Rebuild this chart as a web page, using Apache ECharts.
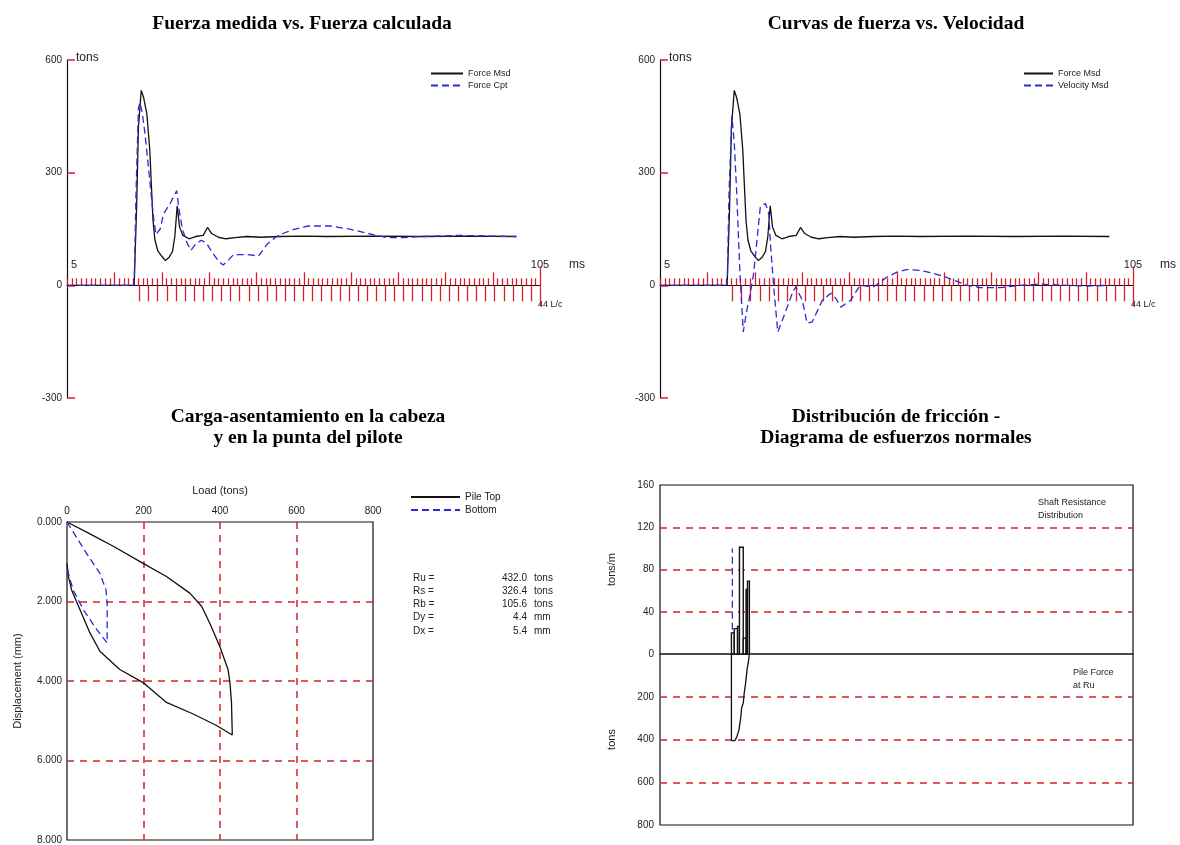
<!DOCTYPE html>
<html>
<head>
<meta charset="utf-8">
<script src="https://cdn.jsdelivr.net/npm/echarts@6/dist/echarts.min.js"></script>
<style>
html, body { margin: 0; padding: 0; background: #fff; }
#main { width: 1180px; height: 845px; }
</style>
</head>
<body>
<div id="main"></div>
<script>
var RED = '#d8202c';
var BLUE = '#2a2ad6';
var INK = '#111';
var SANS = '"Liberation Sans", Arial, sans-serif';
var SERIF = '"Liberation Serif", "Times New Roman", serif';

// time traces [ms, tons]
var forceMsd = [[5,0],[19.2,0],[19.7,200],[20.1,420],[20.7,519],[21.2,500],[21.9,455],[22.5,360],[22.9,250],[23.2,170],
    [23.6,120],[24.2,92],[25.0,78],[25.8,66],[26.6,75],[27.3,90],[27.8,130],[28.3,212],[28.8,155],[29.5,133],
    [30.8,124],[32.2,130],[33.8,133],[34.7,154],[35.6,138],[37,128],[38.6,124],[40.5,127],[43,130],[46,128],
    [50,130],[55,131],[60,130],[70,131],[80,130],[90,131],[100,130]];
var forceCpt = [[5,0],[19.2,0],[19.6,250],[20.1,470],[20.4,487],[20.9,460],[21.5,403],[22.5,279],[23.2,191],[23.8,135],
    [24.2,130],[24.7,150],[25.4,190],[26.8,218],[28.2,252],[28.7,200],[29.4,150],[30.3,115],[31.2,93],[32.2,110],
    [33.4,120],[34.5,112],[35.7,88],[37,65],[38,54],[39,65],[40.2,82],[43.2,82],[45.5,78],[47.4,111],
    [49.3,130],[51,140],[53,149],[56,158],[60.6,158],[65,149],[69.7,135],[72.7,127],[76,127],[80,130],
    [87.8,133],[95,131],[100,130]];
var velocityMsd = [[5,0],[19.2,0],[19.6,250],[20.2,451],[20.7,380],[21.2,252],[21.9,32],[22.6,-124],[23.3,-70],[24.1,-21],
    [24.8,32],[25.5,120],[26.2,208],[27.3,218],[28,191],[28.4,102],[29.1,-13],[29.9,-124],[30.8,-95],[31.9,-58],
    [33,-20],[33.7,-4],[35.1,-40],[36.1,-101],[37.2,-97],[38.2,-70],[39.3,-40],[41.1,-21],[42.2,-35],[43.2,-58],
    [45.3,-40],[47.3,0],[50.2,-4],[53,22],[55.1,35],[57.1,42],[60,40],[62.8,32],[65.6,21],[69.9,0],
    [72.7,-6],[76.9,-6],[81.1,0],[85.4,3],[91,0],[95,-2],[100,0]];

// time axis decoration
var msStart = 5, msEnd = 105;
var lcStart = 20.27, lcCount = 44;

// load-settlement [tons, mm]
var pileTop = [[0,0],[60,0.3],[121,0.61],[199,1.04],[260,1.37],[321,1.79],[352,2.12],[373,2.54],[399,3.12],[421,3.71],
    [426,4.04],[430,4.54],[432,5.29],[432,5.36],[391,5.12],[330,4.83],[260,4.54],[199,4.04],[138,3.71],[86,3.25],
    [60,2.79],[34,2.21],[12,1.71],[3.5,1.37],[0,1.04]];
var pileBottom = [[0,0],[51,0.79],[86,1.29],[102,1.71],[105,2.04],[105,3.04],[78,2.71],[43,2.21],[16,1.71],[3.5,1.29],[0,1.12]];
var resultLabels = ['Ru =', 'Rs =', 'Rb =', 'Dy =', 'Dx ='];
var resultValues = ['432.0', '326.4', '105.6', '4.4', '5.4'];
var resultUnits = ['tons', 'tons', 'tons', 'mm', 'mm'];

// friction distribution: [x0, x1, tons/m]
var shaftSegments = [[15.1,15.7,20],[15.7,16.4,24],[16.4,16.8,26],[16.8,17.6,101],[17.6,18.2,15],[18.2,18.5,61],[18.5,18.9,69]];
var toeLine = [[15.3,23],[15.3,100]];
var pileForce = [[15.1,0],[15.1,405],[15.8,405],[16.2,390],[16.7,355],[17.1,292],[17.25,253],[17.6,230],[17.8,183],
    [18.1,136],[18.4,73],[18.7,35],[18.9,0]];

var upTicks = [];
for (var t = msStart; t <= msEnd; t++) {
    var len = 7;
    if (t == msEnd) len = 19;
    else if (t > msStart && (t - msStart) % 10 == 0) len = 13;
    upTicks.push([t, len]);
}
var lcStep = (msEnd - lcStart) / lcCount;
var downTicks = [];
for (var i = 0; i <= lcCount; i++) {
    downTicks.push([lcStart + i * lcStep, i == lcCount ? 21 : 16]);
}

function tickItem(dir) {
    return function (params, api) {
        var p = api.coord([api.value(0), 0]);
        var x = Math.round(p[0]) + 0.5;
        return {
            type: 'line',
            shape: { x1: x, y1: p[1], x2: x, y2: p[1] + dir * api.value(1) },
            style: { stroke: RED, lineWidth: 1.3 }
        };
    };
}

function barItem(params, api) {
    var p0 = api.coord([api.value(0), api.value(2)]);
    var p1 = api.coord([api.value(1), 0]);
    return {
        type: 'rect',
        shape: { x: p0[0], y: p0[1], width: p1[0] - p0[0], height: p1[1] - p0[1] },
        style: { fill: '#fff', stroke: INK, lineWidth: 1.4 }
    };
}

function txt(x, y, s, size, align) {
    return {
        type: 'text', x: x, y: y, silent: true,
        style: { text: s, font: size + 'px ' + SANS, fill: '#222', textAlign: align || 'left', textVerticalAlign: 'middle' }
    };
}

var label10 = { fontSize: 10, fontFamily: SANS, color: '#222' };
var dashRed = { show: true, showMinLine: false, showMaxLine: false, lineStyle: { color: RED, type: [7, 6], width: 1.5 } };

function timeX(grid) {
    return { gridIndex: grid, type: 'value', min: msStart, max: msEnd,
        axisLine: { show: true, onZero: true, lineStyle: { color: INK, width: 1.2 } },
        axisTick: { show: false }, axisLabel: { show: false }, splitLine: { show: false } };
}
function timeY(grid) {
    return { gridIndex: grid, type: 'value', min: -300, max: 600, interval: 300,
        axisLine: { show: true, lineStyle: { color: INK, width: 1.2 } },
        axisTick: { show: true, inside: true, length: 8, lineStyle: { color: RED, width: 1.5 } },
        axisLabel: Object.assign({ margin: 5 }, label10), splitLine: { show: false } };
}
function traceLine(name, data, xi, color, dashed) {
    return { name: name, type: 'line', xAxisIndex: xi, yAxisIndex: xi, data: data, symbol: 'none',
        lineStyle: { color: color, width: 1.3, type: dashed ? [7, 4] : 'solid' }, itemStyle: { color: color }, z: 3 };
}
function tickSeries(xi, data, dir) {
    return { type: 'custom', xAxisIndex: xi, yAxisIndex: xi, data: data, renderItem: tickItem(dir), z: 2, silent: true };
}
function legendAt(names, left, top, w, size) {
    return { data: names, left: left, top: top, orient: 'vertical', itemWidth: w, itemHeight: 10, itemGap: 3,
        selectedMode: false, itemStyle: { opacity: 0 },
        textStyle: { fontSize: size, fontFamily: SANS, color: '#222' } };
}

var chart = echarts.init(document.getElementById('main'));
var titleStyle = { fontFamily: SERIF, fontWeight: 'bold', fontSize: 19.5, color: '#000', lineHeight: 21 };

var graphics = [
    txt(76, 58, 'tons', 12), txt(71, 265, '5', 11), txt(540, 265, '105', 11, 'center'), txt(569, 265, 'ms', 12),
    txt(538, 305, '44 L/c', 9),
    txt(669, 58, 'tons', 12), txt(664, 265, '5', 11), txt(1133, 265, '105', 11, 'center'), txt(1160, 265, 'ms', 12),
    txt(1131, 305, '44 L/c', 9),
    txt(1038, 503, 'Shaft Resistance', 9), txt(1038, 516, 'Distribution', 9),
    txt(1073, 673, 'Pile Force', 9), txt(1073, 686, 'at Ru', 9)
];
for (var k = 0; k < resultLabels.length; k++) {
    var yy = 578 + k * 13.2;
    graphics.push(txt(413, yy, resultLabels[k], 10));
    graphics.push(txt(527, yy, resultValues[k], 10, 'right'));
    graphics.push(txt(534, yy, resultUnits[k], 10));
}

var option = {
    animation: false,
    backgroundColor: '#fff',
    title: [
        { text: 'Fuerza medida vs. Fuerza calculada', left: 297, top: 8, textAlign: 'center', textStyle: titleStyle },
        { text: 'Curvas de fuerza vs. Velocidad', left: 891, top: 8, textAlign: 'center', textStyle: titleStyle },
        { text: 'Carga-asentamiento en la cabeza\ny en la punta del pilote', left: 303, top: 401, textAlign: 'center', textStyle: titleStyle },
        { text: 'Distribución de fricción -\nDiagrama de esfuerzos normales', left: 891, top: 401, textAlign: 'center', textStyle: titleStyle }
    ],
    legend: [
        legendAt(['Force Msd', 'Force Cpt'], 425, 64, 32, 9),
        legendAt(['Force Msd', 'Velocity Msd'], 1018, 64, 29, 9),
        legendAt(['Pile Top', 'Bottom'], 405, 487, 49, 10)
    ],
    grid: [
        { left: 67, top: 60, width: 473, height: 338 },
        { left: 660, top: 60, width: 473, height: 338 },
        { left: 67, top: 522, width: 306, height: 318, show: true, borderColor: INK, borderWidth: 1.2 },
        { left: 660, top: 485, width: 473, height: 169, show: true, borderColor: INK, borderWidth: 1.2 },
        { left: 660, top: 654, width: 473, height: 171, show: true, borderColor: INK, borderWidth: 1.2 }
    ],
    xAxis: [
        timeX(0),
        timeX(1),
        { gridIndex: 2, type: 'value', position: 'top', min: 0, max: 800, interval: 200,
          name: 'Load (tons)', nameLocation: 'middle', nameGap: 26,
          nameTextStyle: { fontSize: 11, fontFamily: SANS, color: '#222' },
          axisLine: { show: false }, axisTick: { show: false }, axisLabel: Object.assign({ margin: 6 }, label10),
          splitLine: dashRed },
        { gridIndex: 3, type: 'value', min: 0, max: 100, show: false },
        { gridIndex: 4, type: 'value', min: 0, max: 100, show: false }
    ],
    yAxis: [
        timeY(0),
        timeY(1),
        { gridIndex: 2, type: 'value', inverse: true, min: 0, max: 8, interval: 2,
          name: 'Displacement (mm)', nameLocation: 'middle', nameGap: 44, nameRotate: 90,
          nameTextStyle: { fontSize: 11, fontFamily: SANS, color: '#222' },
          axisLine: { show: false }, axisTick: { show: false },
          axisLabel: Object.assign({ margin: 5, formatter: function (v) { return v.toFixed(3); } }, label10),
          splitLine: dashRed },
        { gridIndex: 3, type: 'value', min: 0, max: 160, interval: 40,
          name: 'tons/m', nameLocation: 'middle', nameGap: 43, nameRotate: 90,
          nameTextStyle: { fontSize: 11, fontFamily: SANS, color: '#222' },
          axisLine: { show: false }, axisTick: { show: false }, axisLabel: Object.assign({ margin: 6 }, label10),
          splitLine: dashRed },
        { gridIndex: 4, type: 'value', inverse: true, min: 0, max: 800, interval: 200,
          name: 'tons', nameLocation: 'middle', nameGap: 43, nameRotate: 90,
          nameTextStyle: { fontSize: 11, fontFamily: SANS, color: '#222' },
          axisLine: { show: false }, axisTick: { show: false },
          axisLabel: Object.assign({ margin: 6, showMinLabel: false }, label10),
          splitLine: dashRed }
    ],
    series: [
        tickSeries(0, upTicks, -1),
        tickSeries(0, downTicks, 1),
        tickSeries(1, upTicks, -1),
        tickSeries(1, downTicks, 1),
        traceLine('Force Msd', forceMsd, 0, INK, false),
        traceLine('Force Cpt', forceCpt, 0, BLUE, true),
        traceLine('Force Msd', forceMsd, 1, INK, false),
        traceLine('Velocity Msd', velocityMsd, 1, BLUE, true),
        traceLine('Pile Top', pileTop, 2, INK, false),
        traceLine('Bottom', pileBottom, 2, BLUE, true),
        { type: 'custom', xAxisIndex: 3, yAxisIndex: 3, data: shaftSegments, encode: { x: [0, 1], y: 2 },
          renderItem: barItem, z: 3, silent: true },
        traceLine('Toe', toeLine, 3, BLUE, true),
        traceLine('Pile Force', pileForce, 4, INK, false)
    ],
    graphic: graphics
};
chart.setOption(option);
</script>
</body>
</html>
